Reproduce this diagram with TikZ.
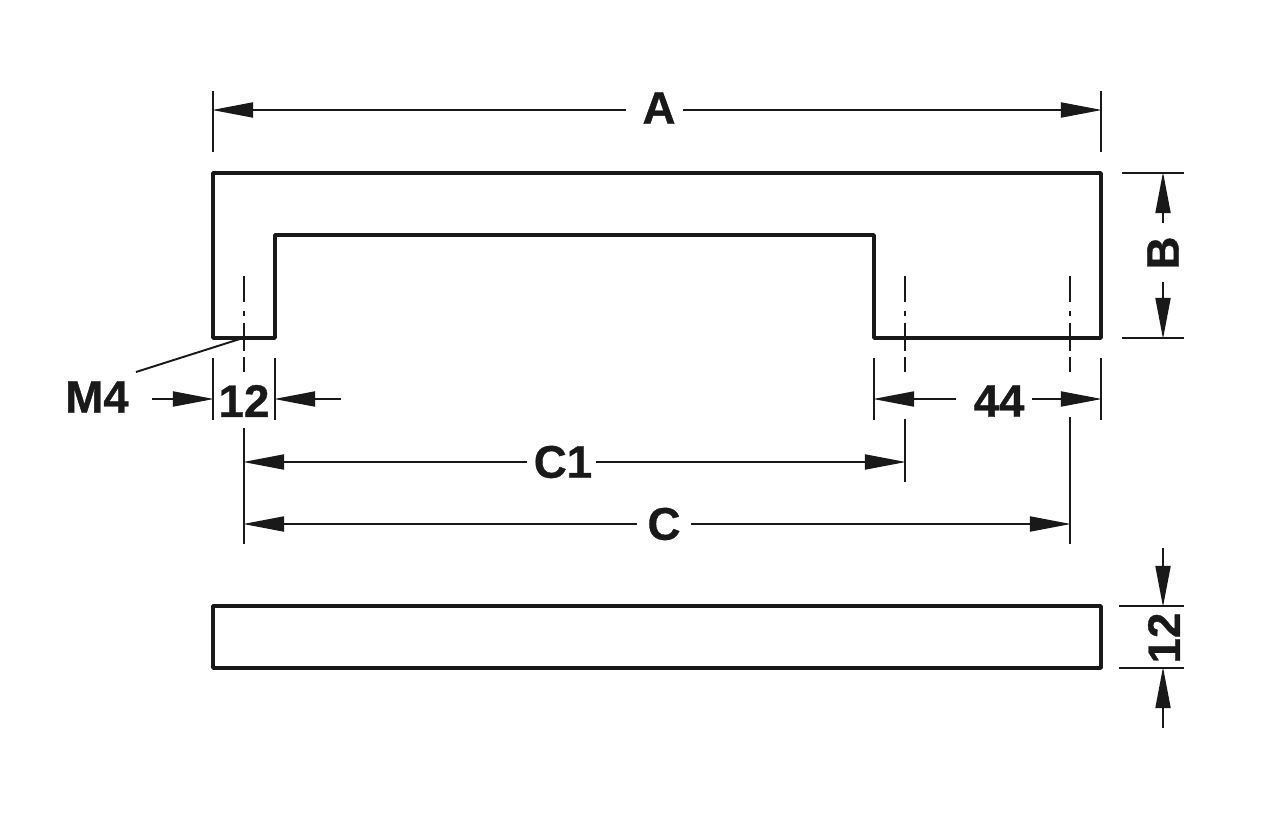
\documentclass[tikz,border=0pt]{standalone}
\usepackage{fontspec}
\setmainfont{Liberation Sans}
\newfontfamily\dimfont[BoldFeatures={FakeBold=0.8}]{Liberation Sans}
\usetikzlibrary{arrows.meta}

\begin{document}
\begin{tikzpicture}[
    x=0.02cm, y=-0.02cm,
    outline/.style={line width=2pt, line join=round, color=black!90},
    thinline/.style={line width=1.1pt, color=black!90},
    centerline/.style={thinline, dash pattern=on 14.7pt off 5pt on 2.8pt off 4pt on 16.4pt off 3.4pt on 8.5pt},
    dimarrow/.style={thinline, -{Triangle[length=0.82cm, width=0.3cm]}, shorten >=-0.5pt},
    dimlabel/.style={font=\fontsize{26}{26}\selectfont\dimfont\bfseries, color=black!90, inner sep=0.2cm},
    leader/.style={thinline}
]
\useasboundingbox (0, 0) rectangle (1280, 834);

%%%%%%%%%%%%%%%%%%%%%%%%%%%%%%%%%%%%%%%%%%%%%%%%%%%%%%%%%%%%%%%%%%%
% Handle (Side View and Top View)
%%%%%%%%%%%%%%%%%%%%%%%%%%%%%%%%%%%%%%%%%%%%%%%%%%%%%%%%%%%%%%%%%%%
\draw[outline] (213, 173) -- (1101, 173) -- (1101, 338) -- (874, 338)
    -- (874, 235) -- (275, 235) -- (275, 338) -- (213, 338) -- cycle;
\draw[outline] (213, 606) rectangle (1101, 668);

%%%%%%%%%%%%%%%%%%%%%%%%%%%%%%%%%%%%%%%%%%%%%%%%%%%%%%%%%%%%%%%%%%%
% Labels
%%%%%%%%%%%%%%%%%%%%%%%%%%%%%%%%%%%%%%%%%%%%%%%%%%%%%%%%%%%%%%%%%%%
\node[dimlabel] (label_a) at (659, 108) {A};
\node[dimlabel, rotate=90] (label_b) at (1163, 253) {B};
\node[dimlabel] (label_m4) at (97, 397) {M4};
\node[dimlabel, inner sep=0pt] (label_hole) at (244, 401) {12};
\node[dimlabel] (label_end) at (999, 401) {44};
\node[dimlabel] (label_c1) at (563, 462) {C1};
\node[dimlabel] (label_c) at (664, 524) {C};
\node[dimlabel, rotate=90, inner sep=0pt] (label_depth) at (1164, 638) {12};

%%%%%%%%%%%%%%%%%%%%%%%%%%%%%%%%%%%%%%%%%%%%%%%%%%%%%%%%%%%%%%%%%%%
% Dimension A
%%%%%%%%%%%%%%%%%%%%%%%%%%%%%%%%%%%%%%%%%%%%%%%%%%%%%%%%%%%%%%%%%%%
\coordinate (a_left) at (213, 110);
\coordinate (a_right) at (1101, 110);
\draw[thinline] (213, 91) -- (213, 152);
\draw[thinline] (1101, 91) -- (1101, 152);
\draw[dimarrow, shorten <=0.13cm] (label_a.west |- a_left) -- (a_left);
\draw[dimarrow, shorten <=-0.06cm] (label_a.east |- a_right) -- (a_right);

%%%%%%%%%%%%%%%%%%%%%%%%%%%%%%%%%%%%%%%%%%%%%%%%%%%%%%%%%%%%%%%%%%%
% Dimension B
%%%%%%%%%%%%%%%%%%%%%%%%%%%%%%%%%%%%%%%%%%%%%%%%%%%%%%%%%%%%%%%%%%%
\coordinate (b_top) at (1163, 173);
\coordinate (b_bottom) at (1163, 338);
\draw[thinline] (1122, 173) -- (1184, 173);
\draw[thinline] (1122, 338) -- (1184, 338);
\draw[dimarrow, shorten <=0.07cm] (label_b.east) -- (b_top);
\draw[dimarrow, shorten <=0.05cm] (label_b.west) -- (b_bottom);

%%%%%%%%%%%%%%%%%%%%%%%%%%%%%%%%%%%%%%%%%%%%%%%%%%%%%%%%%%%%%%%%%%%
% Centre Lines
%%%%%%%%%%%%%%%%%%%%%%%%%%%%%%%%%%%%%%%%%%%%%%%%%%%%%%%%%%%%%%%%%%%
\draw[centerline] (244, 276) -- (244, 373);
\draw[centerline] (905, 276) -- (905, 383);
\draw[centerline] (1070, 276) -- (1070, 385);
\draw[thinline] (244, 428) -- (244, 544);
\draw[thinline] (905, 419) -- (905, 482);
\draw[thinline] (1070, 417) -- (1070, 544);

%%%%%%%%%%%%%%%%%%%%%%%%%%%%%%%%%%%%%%%%%%%%%%%%%%%%%%%%%%%%%%%%%%%
% Thread and Leg Width
%%%%%%%%%%%%%%%%%%%%%%%%%%%%%%%%%%%%%%%%%%%%%%%%%%%%%%%%%%%%%%%%%%%
\coordinate (m4_start) at (136, 372);
\coordinate (m4_end) at (243, 338);
\draw[leader] (m4_start) -- (m4_end);

\coordinate (hole_left) at (213, 399);
\coordinate (hole_right) at (275, 399);
\coordinate (hole_in) at (152, 399);
\coordinate (hole_out) at (341, 399);
\draw[thinline] (213, 358) -- (213, 420);
\draw[thinline] (275, 358) -- (275, 420);
\draw[dimarrow] (hole_in) -- (hole_left);
\draw[dimarrow] (hole_out) -- (hole_right);

%%%%%%%%%%%%%%%%%%%%%%%%%%%%%%%%%%%%%%%%%%%%%%%%%%%%%%%%%%%%%%%%%%%
% Dimension 44
%%%%%%%%%%%%%%%%%%%%%%%%%%%%%%%%%%%%%%%%%%%%%%%%%%%%%%%%%%%%%%%%%%%
\coordinate (end_left) at (874, 399);
\coordinate (end_right) at (1101, 399);
\draw[thinline] (874, 358) -- (874, 420);
\draw[thinline] (1101, 358) -- (1101, 420);
\draw[dimarrow, shorten <=0.15cm] (label_end.west |- end_left) -- (end_left);
\draw[dimarrow, shorten <=-0.05cm] (label_end.east |- end_right) -- (end_right);

%%%%%%%%%%%%%%%%%%%%%%%%%%%%%%%%%%%%%%%%%%%%%%%%%%%%%%%%%%%%%%%%%%%
% Dimensions C1 and C
%%%%%%%%%%%%%%%%%%%%%%%%%%%%%%%%%%%%%%%%%%%%%%%%%%%%%%%%%%%%%%%%%%%
\coordinate (c1_left) at (244, 462);
\coordinate (c1_right) at (905, 462);
\draw[dimarrow, shorten <=-0.07cm] (label_c1.west |- c1_left) -- (c1_left);
\draw[dimarrow, shorten <=-0.13cm] (label_c1.east |- c1_right) -- (c1_right);

\coordinate (c_left) at (244, 524);
\coordinate (c_right) at (1070, 524);
\draw[dimarrow] (label_c.west |- c_left) -- (c_left);
\draw[dimarrow] (label_c.east |- c_right) -- (c_right);

%%%%%%%%%%%%%%%%%%%%%%%%%%%%%%%%%%%%%%%%%%%%%%%%%%%%%%%%%%%%%%%%%%%
% Depth
%%%%%%%%%%%%%%%%%%%%%%%%%%%%%%%%%%%%%%%%%%%%%%%%%%%%%%%%%%%%%%%%%%%
\coordinate (depth_top) at (1163, 606);
\coordinate (depth_bottom) at (1163, 668);
\coordinate (depth_in) at (1163, 548);
\coordinate (depth_out) at (1163, 728);
\draw[thinline] (1119, 606) -- (1184, 606);
\draw[thinline] (1119, 668) -- (1184, 668);
\draw[dimarrow] (depth_in) -- (depth_top);
\draw[dimarrow] (depth_out) -- (depth_bottom);

\end{tikzpicture}
\end{document}
